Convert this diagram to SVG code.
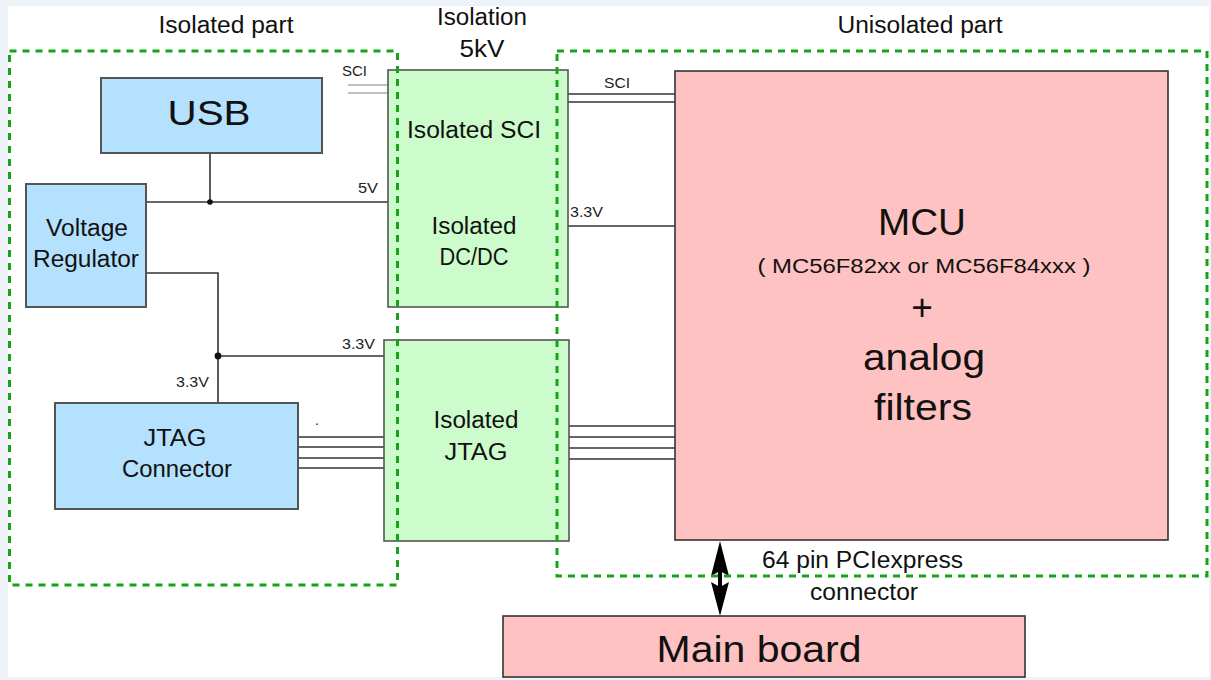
<svg xmlns="http://www.w3.org/2000/svg" width="1211" height="680" viewBox="0 0 1211 680">
  <style>
    text { font-family: "Liberation Sans", Arial, sans-serif; fill: #111; }
    .sm { font-size: 14px; fill: #222; }
    .md { font-size: 23px; text-anchor: middle; }
    .lg { font-size: 37px; text-anchor: middle; }
    .blue { fill: #b4e1fd; stroke: #555; stroke-width: 2; }
    .green { fill: #ccfccc; stroke: #555; stroke-width: 1.6; }
    .pink { fill: #ffc2c2; stroke: #333; stroke-width: 1.6; }
    .wire { stroke: #333; stroke-width: 1.6; fill: none; }
    .wire-lt { stroke: #aaa; stroke-width: 1.6; fill: none; }
    .zone { fill: none; stroke: #17a317; stroke-width: 3; stroke-dasharray: 7 6; }
  </style>

  <!-- page background -->
  <rect x="0" y="0" width="1211" height="680" fill="#eef3fa"/>
  <rect x="8" y="6" width="1201" height="671" fill="#ffffff"/>

  <!-- zone titles -->
  <text class="md" x="226" y="33" textLength="135" lengthAdjust="spacingAndGlyphs">Isolated part</text>
  <text class="md" x="482" y="25" textLength="90" lengthAdjust="spacingAndGlyphs">Isolation</text>
  <text class="md" x="482" y="57" textLength="45" lengthAdjust="spacingAndGlyphs">5kV</text>
  <text class="md" x="920" y="33" textLength="165" lengthAdjust="spacingAndGlyphs">Unisolated part</text>

  <!-- connectors -->
  <g id="connectors">
    <line class="wire" x1="210" y1="153" x2="210" y2="202"/>
    <line class="wire" x1="146" y1="202" x2="388" y2="202"/>
    <circle cx="210" cy="202" r="2.8" fill="#111"/>
    <polyline class="wire" points="146,273 218,273 218,403"/>
    <line class="wire" x1="218" y1="356" x2="384" y2="356"/>
    <circle cx="218" cy="356" r="3.4" fill="#111"/>
    <line class="wire-lt" x1="348" y1="85" x2="388" y2="85"/>
    <line class="wire-lt" x1="348" y1="93" x2="388" y2="93"/>
    <line class="wire" x1="568" y1="94" x2="675" y2="94"/>
    <line class="wire" x1="568" y1="102" x2="675" y2="102"/>
    <line class="wire" x1="568" y1="226" x2="675" y2="226"/>
    <line class="wire" x1="298" y1="437" x2="384" y2="437"/>
    <line class="wire" x1="298" y1="447" x2="384" y2="447"/>
    <line class="wire" x1="298" y1="458" x2="384" y2="458"/>
    <line class="wire" x1="298" y1="468" x2="384" y2="468"/>
    <line class="wire" x1="569" y1="426" x2="675" y2="426"/>
    <line class="wire" x1="569" y1="437" x2="675" y2="437"/>
    <line class="wire" x1="569" y1="448" x2="675" y2="448"/>
    <line class="wire" x1="569" y1="459" x2="675" y2="459"/>
    <!-- bidirectional board link -->
    <line x1="720" y1="565" x2="720" y2="592" stroke="#000" stroke-width="4"/>
    <polygon points="720,541 729,576 720,571 711,576" fill="#000"/>
    <polygon points="720,616 729,582 720,587 711,582" fill="#000"/>

    <text class="sm" x="342" y="76" textLength="25" lengthAdjust="spacingAndGlyphs">SCI</text>
    <text class="sm" x="604" y="88" textLength="26" lengthAdjust="spacingAndGlyphs">SCI</text>
    <text class="sm" x="358" y="193" textLength="20" lengthAdjust="spacingAndGlyphs">5V</text>
    <text class="sm" x="570" y="217" textLength="33" lengthAdjust="spacingAndGlyphs">3.3V</text>
    <text class="sm" x="342" y="349" textLength="33" lengthAdjust="spacingAndGlyphs">3.3V</text>
    <text class="sm" x="176" y="387" textLength="33" lengthAdjust="spacingAndGlyphs">3.3V</text>
    <text class="sm" x="315" y="425">.</text>
    <text x="762" y="568" style="font-size:23px" textLength="201" lengthAdjust="spacingAndGlyphs">64 pin PCIexpress</text>
    <text class="md" x="864" y="600" textLength="108" lengthAdjust="spacingAndGlyphs">connector</text>
  </g>

  <g id="usb">
    <rect class="blue" x="101" y="78" width="221" height="75"/>
    <text class="lg" x="209" y="125" style="font-size:35px" textLength="83" lengthAdjust="spacingAndGlyphs">USB</text>
  </g>

  <g id="voltage-regulator">
    <rect class="blue" x="26" y="184" width="120" height="123"/>
    <text class="md" x="87" y="236" textLength="82" lengthAdjust="spacingAndGlyphs">Voltage</text>
    <text class="md" x="86" y="267" textLength="106" lengthAdjust="spacingAndGlyphs">Regulator</text>
  </g>

  <g id="jtag-connector">
    <rect class="blue" x="55" y="403" width="243" height="106"/>
    <text class="md" x="175" y="446" textLength="63" lengthAdjust="spacingAndGlyphs">JTAG</text>
    <text class="md" x="177" y="477" textLength="110" lengthAdjust="spacingAndGlyphs">Connector</text>
  </g>

  <g id="isolated-sci-dcdc">
    <rect class="green" x="388" y="70" width="180" height="237"/>
    <text class="md" x="474" y="138" textLength="134" lengthAdjust="spacingAndGlyphs">Isolated SCI</text>
    <text class="md" x="474" y="234" textLength="85" lengthAdjust="spacingAndGlyphs">Isolated</text>
    <text class="md" x="474" y="265" textLength="69" lengthAdjust="spacingAndGlyphs">DC/DC</text>
  </g>

  <g id="isolated-jtag">
    <rect class="green" x="384" y="340" width="185" height="201"/>
    <text class="md" x="476" y="428" textLength="85" lengthAdjust="spacingAndGlyphs">Isolated</text>
    <text class="md" x="476" y="460" textLength="63" lengthAdjust="spacingAndGlyphs">JTAG</text>
  </g>

  <g id="mcu">
    <rect class="pink" x="675" y="71" width="493" height="469"/>
    <text class="lg" x="922" y="235" textLength="88" lengthAdjust="spacingAndGlyphs">MCU</text>
    <text class="md" x="924" y="273" style="font-size:20px" textLength="333" lengthAdjust="spacingAndGlyphs">( MC56F82xx or MC56F84xxx )</text>
    <text class="lg" x="922" y="320">+</text>
    <text class="lg" x="924" y="370" textLength="122" lengthAdjust="spacingAndGlyphs">analog</text>
    <text class="lg" x="923" y="420" textLength="98" lengthAdjust="spacingAndGlyphs">filters</text>
  </g>

  <g id="main-board">
    <rect class="pink" x="503" y="616" width="522" height="61"/>
    <text class="lg" x="759" y="662" textLength="205" lengthAdjust="spacingAndGlyphs">Main board</text>
  </g>

  <!-- isolation zones -->
  <g id="zones">
    <rect class="zone" x="9.5" y="51" width="388" height="534"/>
    <rect class="zone" x="557" y="51" width="650" height="525"/>
  </g>
</svg>
